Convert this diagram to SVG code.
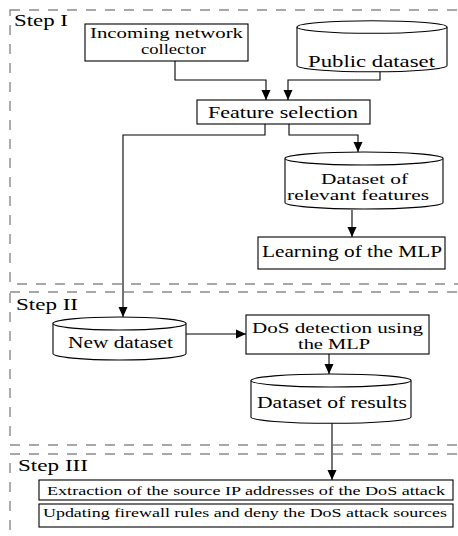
<svg xmlns="http://www.w3.org/2000/svg" width="458" height="536" viewBox="0 0 458 536">
<style>
.frame{fill:none;stroke:#8a8a8a;stroke-width:1.4;stroke-dasharray:10,9}
.box{fill:#fff;stroke:#000;stroke-width:1.1}
.cyl{fill:#fff;stroke:#000;stroke-width:1.1}
.lbl{font-family:"Liberation Serif","Times New Roman",serif;font-size:16.5px;fill:#000;text-anchor:middle}
.two{font-family:"Liberation Serif","Times New Roman",serif;font-size:14.3px;fill:#000;text-anchor:middle}
.small{font-family:"Liberation Serif","Times New Roman",serif;font-size:13.5px;fill:#000;text-anchor:middle}
.step{font-family:"Liberation Serif","Times New Roman",serif;font-size:16.5px;fill:#000}
.conn{fill:none;stroke:#000;stroke-width:1.1}
</style>
<defs>
<marker id="arr" markerWidth="10" markerHeight="10" refX="10" refY="5" orient="auto" markerUnits="userSpaceOnUse">
<path d="M0,0.5 L10,5 L0,9.5 z" fill="#000"/>
</marker>
</defs>

<g id="step1">
<rect class="frame" x="10" y="10" width="470" height="274"/>
<text class="step" x="14" y="26" textLength="54" lengthAdjust="spacingAndGlyphs">Step I</text>
</g>
<g id="step2">
<rect class="frame" x="10" y="292" width="470" height="153"/>
<text class="step" x="16" y="310" textLength="62" lengthAdjust="spacingAndGlyphs">Step II</text>
</g>
<g id="step3">
<rect class="frame" x="10" y="454" width="470" height="100"/>
<text class="step" x="18" y="471" textLength="70" lengthAdjust="spacingAndGlyphs">Step III</text>
</g>

<g id="connectors">
<path class="conn" d="M175,61 V80 H266 V100" marker-end="url(#arr)"/>
<path class="conn" d="M380,72 V80 H288 V100" marker-end="url(#arr)"/>
<path class="conn" d="M265,124 V135 H123 V317" marker-end="url(#arr)"/>
<path class="conn" d="M289,124 V135 H358 V152" marker-end="url(#arr)"/>
<path class="conn" d="M352,210 V237" marker-end="url(#arr)"/>
<path class="conn" d="M186,334 H246" marker-end="url(#arr)"/>
<path class="conn" d="M329,354 V374" marker-end="url(#arr)"/>
<path class="conn" d="M332,423 V480" marker-end="url(#arr)"/>
</g>

<g id="incoming">
<rect class="box" x="85" y="24" width="163" height="37"/>
<text class="two" x="166.5" y="38" textLength="153" lengthAdjust="spacingAndGlyphs">Incoming network</text>
<text class="two" x="173.5" y="54" textLength="65" lengthAdjust="spacingAndGlyphs">collector</text>
</g>

<g id="public">
<path class="cyl" d="M297,27 V65.5 A75,6.3 0 0,0 447,65.5 V27"/>
<ellipse class="cyl" cx="372" cy="27" rx="75" ry="6.3"/>
<text class="lbl" x="371.5" y="66.5" textLength="127" lengthAdjust="spacingAndGlyphs">Public dataset</text>
</g>

<g id="feature">
<rect class="box" x="197" y="100" width="173" height="24"/>
<text class="lbl" x="283" y="118" textLength="150" lengthAdjust="spacingAndGlyphs">Feature selection</text>
</g>

<g id="relevant">
<path class="cyl" d="M285,158.5 V202.5 A79,6.5 0 0,0 443,202.5 V158.5"/>
<ellipse class="cyl" cx="364" cy="158.5" rx="79" ry="6.5"/>
<text class="two" x="364.5" y="183.5" textLength="87" lengthAdjust="spacingAndGlyphs">Dataset of</text>
<text class="two" x="358" y="199.5" textLength="142" lengthAdjust="spacingAndGlyphs">relevant features</text>
</g>

<g id="learning">
<rect class="box" x="258" y="237" width="187" height="32"/>
<text class="lbl" x="352" y="257" textLength="180" lengthAdjust="spacingAndGlyphs">Learning of the MLP</text>
</g>

<g id="newdataset">
<path class="cyl" d="M53,323.5 V353.5 A66.5,6.5 0 0,0 186,353.5 V323.5"/>
<ellipse class="cyl" cx="119.5" cy="323.5" rx="66.5" ry="6.5"/>
<text class="lbl" x="120.5" y="347.5" textLength="105" lengthAdjust="spacingAndGlyphs">New dataset</text>
</g>

<g id="dos">
<rect class="box" x="246" y="315" width="183" height="39"/>
<text class="two" x="337.5" y="332.5" textLength="171" lengthAdjust="spacingAndGlyphs">DoS detection using</text>
<text class="two" x="334" y="348.5" textLength="72" lengthAdjust="spacingAndGlyphs">the MLP</text>
</g>

<g id="results">
<path class="cyl" d="M251,380.5 V417 A80,6.3 0 0,0 411,417 V380.5"/>
<ellipse class="cyl" cx="331" cy="380.5" rx="80" ry="6.5"/>
<text class="lbl" x="332" y="407.5" textLength="150" lengthAdjust="spacingAndGlyphs">Dataset of results</text>
</g>

<g id="extraction">
<rect class="box" x="39" y="480" width="414" height="20"/>
<text class="small" x="246" y="495" textLength="398" lengthAdjust="spacingAndGlyphs">Extraction of the source IP addresses of the DoS attack</text>
</g>

<g id="updating">
<rect class="box" x="39" y="504" width="414" height="23"/>
<text class="small" x="245" y="517" textLength="404" lengthAdjust="spacingAndGlyphs">Updating firewall rules and deny the DoS attack sources</text>
</g>
</svg>
